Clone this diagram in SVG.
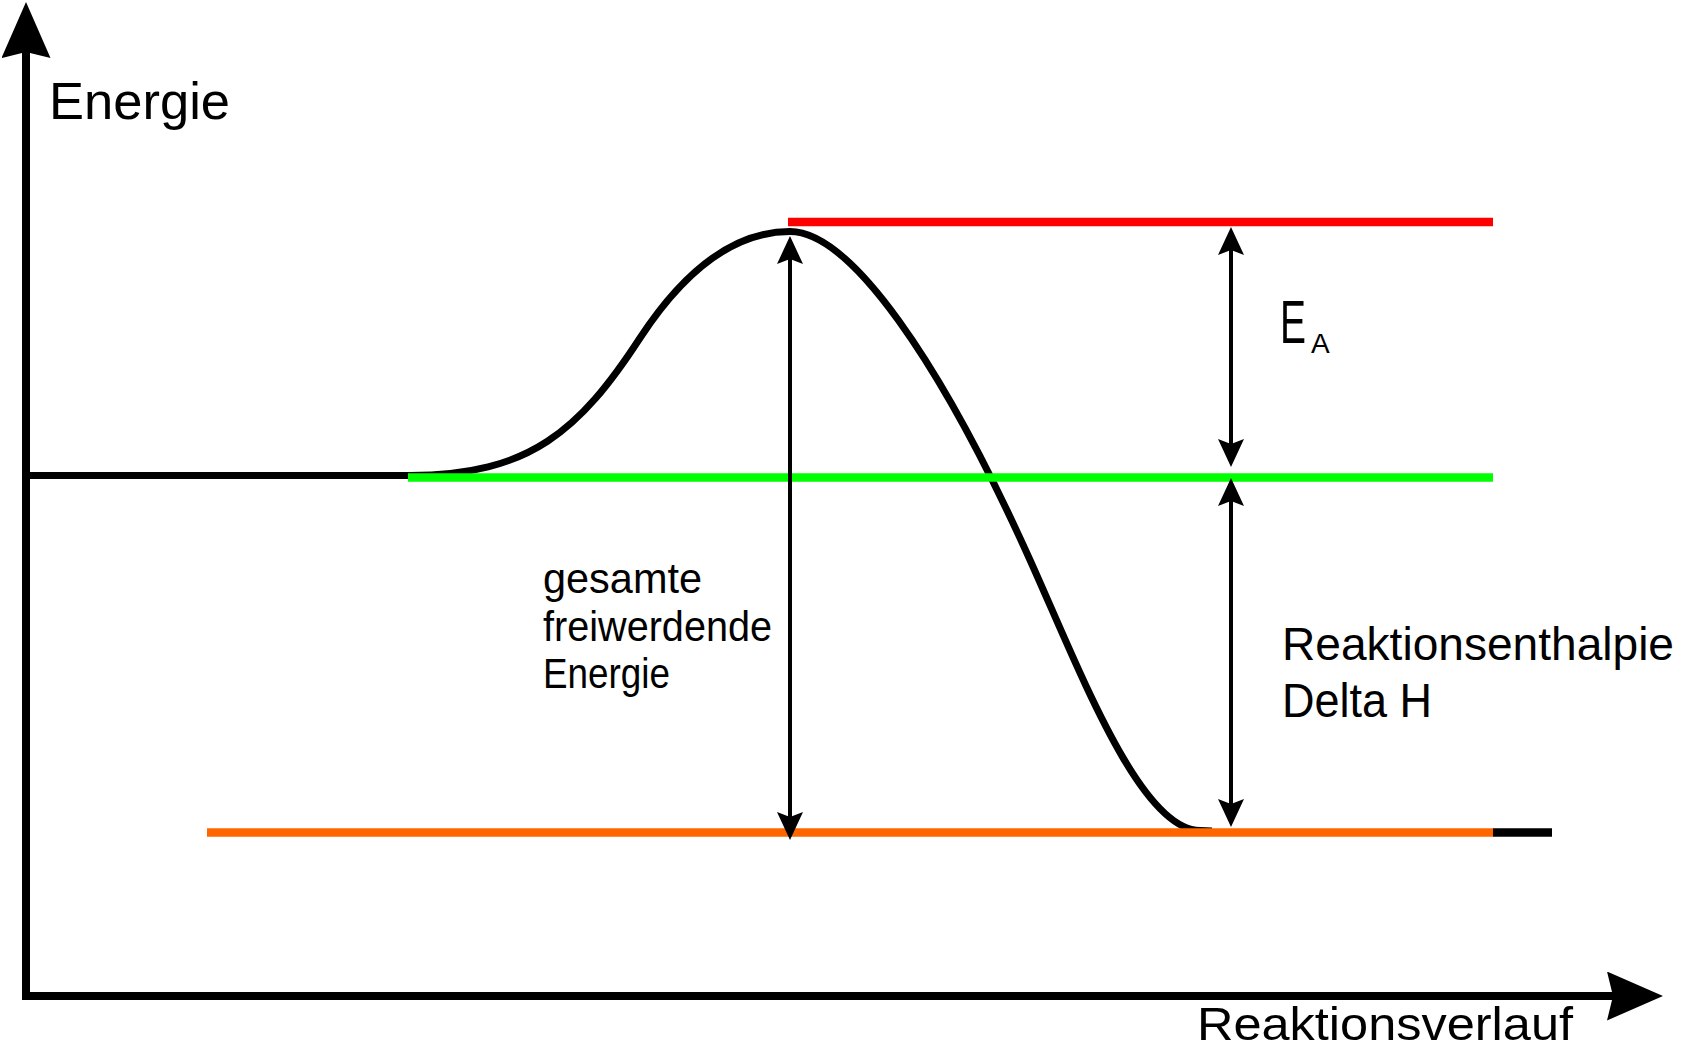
<svg xmlns="http://www.w3.org/2000/svg" width="1685" height="1048" viewBox="0 0 1685 1048">
<style>
text{font-family:"Liberation Sans",Arial,sans-serif;fill:#000}
.lvl{fill:none;stroke-width:8.5}
.dim{stroke:#000;stroke-width:4;fill:none;marker-start:url(#ah);marker-end:url(#ah)}
</style>
<defs>
<marker id="ah" markerUnits="userSpaceOnUse" markerWidth="30" markerHeight="26" viewBox="0 0 30 26" refX="8" refY="13" orient="auto-start-reverse">
<path d="M0,0 L28,13 L0,26 L5,13 Z" fill="#000"/>
</marker>
<marker id="axh" markerUnits="userSpaceOnUse" markerWidth="58" markerHeight="50" viewBox="0 0 58 50" refX="6" refY="24.5" orient="auto-start-reverse">
<path d="M0,0 L56,24.5 L0,49 L6,24.5 Z" fill="#000"/>
</marker>
</defs>
<rect width="1685" height="1048" fill="#fff"/>
<g id="axes">
<path d="M26,52 L26,996 L1613,996" fill="none" stroke="#000" stroke-width="8" stroke-linejoin="miter" marker-start="url(#axh)" marker-end="url(#axh)"/>
</g>
<g id="curve">
<path d="M26,475.5 H410 C530,475.5 580,430 640,338 C680,277 730,231.5 790,231.5 C850,231.5 940,360 1030,560 C1080,671 1140,830 1200,830.5 L1212,831" fill="none" stroke="#000" stroke-width="7"/>
</g>
<g id="levels">
<line id="level-transition" class="lvl" x1="788" y1="222" x2="1493" y2="222" stroke="#FF0000"/>
<line id="level-start" class="lvl" x1="408" y1="477.5" x2="1493" y2="477.5" stroke="#00FF00"/>
<line id="level-end" class="lvl" x1="207" y1="832.5" x2="1493" y2="832.5" stroke="#FF6600"/>
<line id="level-end-tail" class="lvl" x1="1493" y1="832.5" x2="1552" y2="832.5" stroke="#000"/>
</g>
<g id="connectors">
<line id="arrow-total" class="dim" x1="790" y1="256" x2="790" y2="820"/>
<line id="arrow-ea" class="dim" x1="1231" y1="247" x2="1231" y2="447"/>
<line id="arrow-dh" class="dim" x1="1231" y1="498" x2="1231" y2="807"/>
</g>
<g id="label-energie">
<text x="49" y="119" font-size="52" textLength="181" lengthAdjust="spacingAndGlyphs">Energie</text>
</g>
<g id="label-ea">
<text x="1280" y="343" font-size="61"><tspan textLength="26" lengthAdjust="spacingAndGlyphs">E</tspan><tspan x="1311" dy="10" font-size="28">A</tspan></text>
</g>
<g id="label-total">
<text x="543" y="593" font-size="43" textLength="159" lengthAdjust="spacingAndGlyphs">gesamte</text>
<text x="543" y="641" font-size="43" textLength="229" lengthAdjust="spacingAndGlyphs">freiwerdende</text>
<text x="543" y="688" font-size="43" textLength="127" lengthAdjust="spacingAndGlyphs">Energie</text>
</g>
<g id="label-dh">
<text x="1282" y="660" font-size="47" textLength="392" lengthAdjust="spacingAndGlyphs">Reaktionsenthalpie</text>
<text x="1282" y="717" font-size="48" textLength="150" lengthAdjust="spacingAndGlyphs">Delta H</text>
</g>
<g id="label-x">
<text x="1197" y="1040" font-size="46" textLength="376" lengthAdjust="spacingAndGlyphs">Reaktionsverlauf</text>
</g>
</svg>
